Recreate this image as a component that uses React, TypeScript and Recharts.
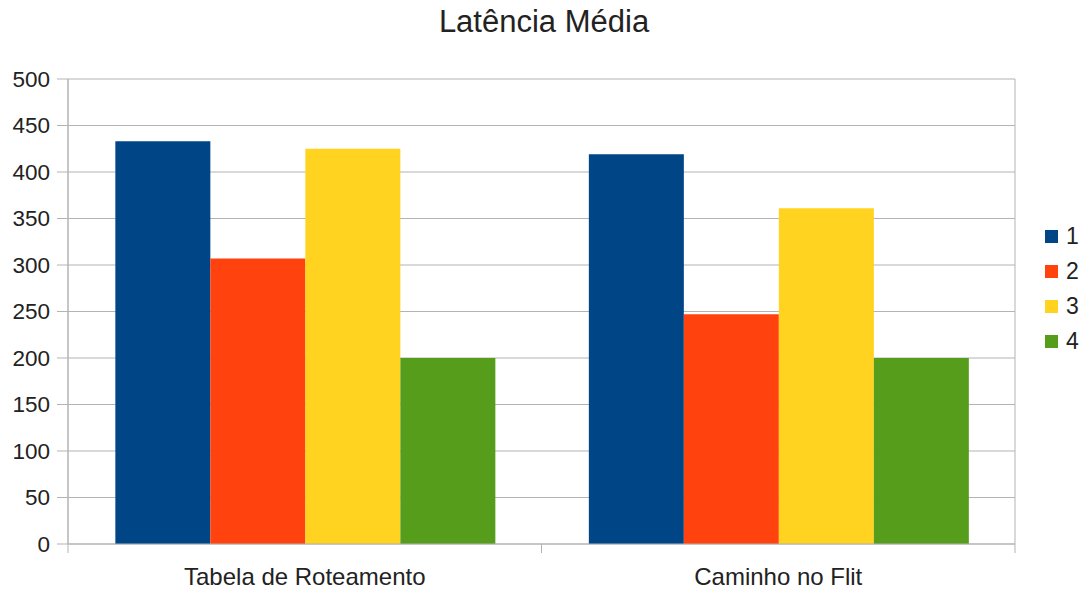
import React from "react";
import { BarChart, Bar, XAxis, YAxis, CartesianGrid } from "recharts";

const categories = ["Tabela de Roteamento", "Caminho no Flit"];
const series1 = [433, 419];
const series2 = [307, 247];
const series3 = [425, 361];
const series4 = [200, 200];
const seriesNames = ["1", "2", "3", "4"];
const seriesColors = ["#004586", "#ff420e", "#ffd320", "#579d1c"];
const yTicks = [0, 50, 100, 150, 200, 250, 300, 350, 400, 450, 500];

const data = categories.map((c, i) => ({
  name: c,
  s1: series1[i],
  s2: series2[i],
  s3: series3[i],
  s4: series4[i],
}));

const W = 1088;
const H = 591;
const MARGIN = { top: 79, right: 73, left: 8, bottom: 17 };
const Y_W = 60;
const X_H = 30;
const GRID = "#b3b3b3";
const FONT = "'Liberation Sans', Arial, sans-serif";

const plotW = W - MARGIN.left - MARGIN.right - Y_W;
const bandW = plotW / categories.length;

const XTick = (props: any) => {
  const { x, y, payload } = props;
  return (
    <g>
      <line x1={x - bandW / 2} x2={x - bandW / 2} y1={y - 8} y2={y + 1} stroke={GRID} />
      <line x1={x + bandW / 2} x2={x + bandW / 2} y1={y - 8} y2={y + 1} stroke={GRID} />
      <text x={x} y={y + 33} textAnchor="middle" fontSize={24} fill="#222" fontFamily={FONT}>
        {payload.value}
      </text>
    </g>
  );
};

export default function App() {
  return (
    <div style={{ position: "absolute", left: 0, top: 0, width: W, height: H, background: "#fff" }}>
      <div
        style={{
          position: "absolute",
          left: 0,
          top: 4,
          width: W,
          textAlign: "center",
          fontFamily: FONT,
          fontSize: 31,
          lineHeight: "36px",
          color: "#222",
        }}
      >
        Latência Média
      </div>
      <BarChart width={W} height={H} data={data} margin={MARGIN} barCategoryGap="10%" barGap={0}>
        <CartesianGrid
          stroke={GRID}
          horizontal={true}
          vertical={true}
          verticalCoordinatesGenerator={({ offset }: any) => [offset.left, offset.left + offset.width]}
        />
        <XAxis
          dataKey="name"
          height={X_H}
          axisLine={{ stroke: GRID }}
          tickLine={false}
          tick={<XTick />}
          interval={0}
        />
        <YAxis
          width={Y_W}
          domain={[0, 500]}
          ticks={yTicks}
          interval={0}
          axisLine={{ stroke: GRID }}
          tickLine={{ stroke: GRID }}
          tickSize={11}
          tickMargin={7}
          tick={{ fontSize: 22.5, fill: "#222", fontFamily: FONT }}
        />
        {["s1", "s2", "s3", "s4"].map((k, i) => (
          <Bar key={k} dataKey={k} name={seriesNames[i]} fill={seriesColors[i]} isAnimationActive={false} />
        ))}
      </BarChart>
      <div style={{ position: "absolute", left: 1045, top: 219, fontFamily: FONT, fontSize: 23, color: "#222" }}>
        {seriesNames.map((n, i) => (
          <div key={n} style={{ display: "flex", alignItems: "center", height: 35 }}>
            <div style={{ width: 13, height: 13, background: seriesColors[i], marginRight: 8 }} />
            <span>{n}</span>
          </div>
        ))}
      </div>
    </div>
  );
}
